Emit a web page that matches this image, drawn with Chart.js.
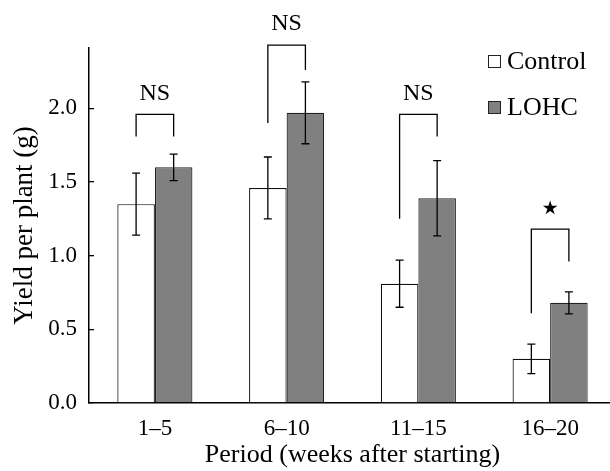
<!DOCTYPE html>
<html>
<head>
<meta charset="utf-8">
<script src="https://cdn.jsdelivr.net/npm/chart.js@4/dist/chart.umd.min.js"></script>
<style>
  html, body { margin: 0; padding: 0; background: #fff; overflow: hidden; }
  canvas { display: block; }
</style>
</head>
<body>
<canvas id="chart" width="618" height="471"></canvas>
<script>
var categories = ['1\u20135', '6\u201310', '11\u201315', '16\u201320'];
var controlMeans = [1.35, 1.46, 0.81, 0.30];
var controlErr = [0.21, 0.21, 0.16, 0.10];
var lohcMeans = [1.60, 1.97, 1.39, 0.68];
var lohcErr = [0.09, 0.21, 0.255, 0.075];
var yTicks = [0, 0.5, 1.0, 1.5, 2.0];

// significance brackets (values in g)
var sigLabels = ['NS', 'NS', 'NS', '\u22C6'];
var bracketTop = [1.96, 2.43, 1.96, 1.18];
var bracketLeftEnd = [1.81, 1.90, 1.25, 0.61];
var bracketRightEnd = [1.81, 2.26, 1.81, 0.96];

var serif = '"Liberation Serif", "Times New Roman", serif';

var overlay = {
    id: 'overlay',
    afterDatasetsDraw: function (chart) {
        var ctx = chart.ctx;
        var y = chart.scales.y;
        var errs = [controlErr, lohcErr];
        var means = [controlMeans, lohcMeans];
        ctx.save();
        ctx.strokeStyle = '#000';
        ctx.lineWidth = 1.3;
        // error bars
        for (var d = 0; d < 2; d++) {
            var meta = chart.getDatasetMeta(d);
            meta.data.forEach(function (bar, i) {
                var top = y.getPixelForValue(means[d][i] + errs[d][i]);
                var bot = y.getPixelForValue(means[d][i] - errs[d][i]);
                ctx.beginPath();
                ctx.moveTo(bar.x, top); ctx.lineTo(bar.x, bot);
                ctx.moveTo(bar.x - 4, top); ctx.lineTo(bar.x + 4, top);
                ctx.moveTo(bar.x - 4, bot); ctx.lineTo(bar.x + 4, bot);
                ctx.stroke();
            });
        }
        // brackets
        var m0 = chart.getDatasetMeta(0), m1 = chart.getDatasetMeta(1);
        ctx.textAlign = 'center';
        ctx.textBaseline = 'middle';
        ctx.fillStyle = '#000';
        for (var i = 0; i < categories.length; i++) {
            var xl = m0.data[i].x, xr = m1.data[i].x;
            var yt = y.getPixelForValue(bracketTop[i]);
            ctx.beginPath();
            ctx.moveTo(xl, y.getPixelForValue(bracketLeftEnd[i]));
            ctx.lineTo(xl, yt);
            ctx.lineTo(xr, yt);
            ctx.lineTo(xr, y.getPixelForValue(bracketRightEnd[i]));
            ctx.stroke();
            if (sigLabels[i] === 'NS') {
                ctx.font = '24px ' + serif;
                ctx.fillText(sigLabels[i], (xl + xr) / 2, yt - 21);
            } else {
                ctx.font = '38px "DejaVu Sans"';
                ctx.fillText(sigLabels[i], (xl + xr) / 2, yt - 19);
            }
        }
        // legend
        var items = chart.data.datasets;
        ctx.textAlign = 'left';
        ctx.font = '26px ' + serif;
        items.forEach(function (ds, k) {
            var cy = 61 + k * 46;
            ctx.fillStyle = ds.backgroundColor;
            ctx.fillRect(488, cy - 6, 13, 13);
            ctx.lineWidth = 1;
            ctx.strokeStyle = '#222';
            ctx.strokeRect(488.5, cy - 5.5, 12, 12);
            ctx.fillStyle = '#000';
            ctx.fillText(ds.label, 507, cy + 1);
        });
        ctx.restore();
    }
};

new Chart(document.getElementById('chart'), {
    type: 'bar',
    data: {
        labels: categories,
        datasets: [{
            label: 'Control',
            data: controlMeans,
            backgroundColor: '#ffffff',
            borderColor: '#111',
            borderWidth: 1.2
        }, {
            label: 'LOHC',
            data: lohcMeans,
            backgroundColor: '#808080',
            borderColor: '#222',
            borderWidth: 1.2
        }]
    },
    options: {
        responsive: false,
        animation: false,
        layout: { padding: { top: 48, right: 2, left: 0, bottom: 0 } },
        plugins: { legend: { display: false }, tooltip: { enabled: false } },
        datasets: { bar: { categoryPercentage: 0.57, barPercentage: 1.0 } },
        scales: {
            x: {
                grid: { display: false },
                border: { display: true, color: '#000', width: 1.5 },
                ticks: { color: '#000', font: { family: serif, size: 23 }, padding: 4 },
                title: { display: true, text: 'Period (weeks after starting)', color: '#000',
                         font: { family: serif, size: 26 }, padding: { top: 0, bottom: 0 } },
                afterFit: function (s) { s.height = 68; }
            },
            y: {
                min: 0,
                max: 2.41,
                afterBuildTicks: function (s) {
                    s.ticks = yTicks.map(function (v) { return { value: v }; });
                },
                grid: { drawOnChartArea: false, drawTicks: true, tickLength: -5, color: '#000', lineWidth: 1.3 },
                border: { display: true, color: '#000', width: 1.5 },
                ticks: {
                    color: '#000', padding: 17,
                    font: { family: serif, size: 23 },
                    callback: function (v) { return v.toFixed(1); }
                },
                title: { display: true, text: 'Yield per plant (g)', color: '#000',
                         font: { family: serif, size: 27 }, padding: { top: 9, bottom: 0 } },
                afterFit: function (s) { s.width = 89; }
            }
        }
    },
    plugins: [overlay]
});
</script>
</body>
</html>
